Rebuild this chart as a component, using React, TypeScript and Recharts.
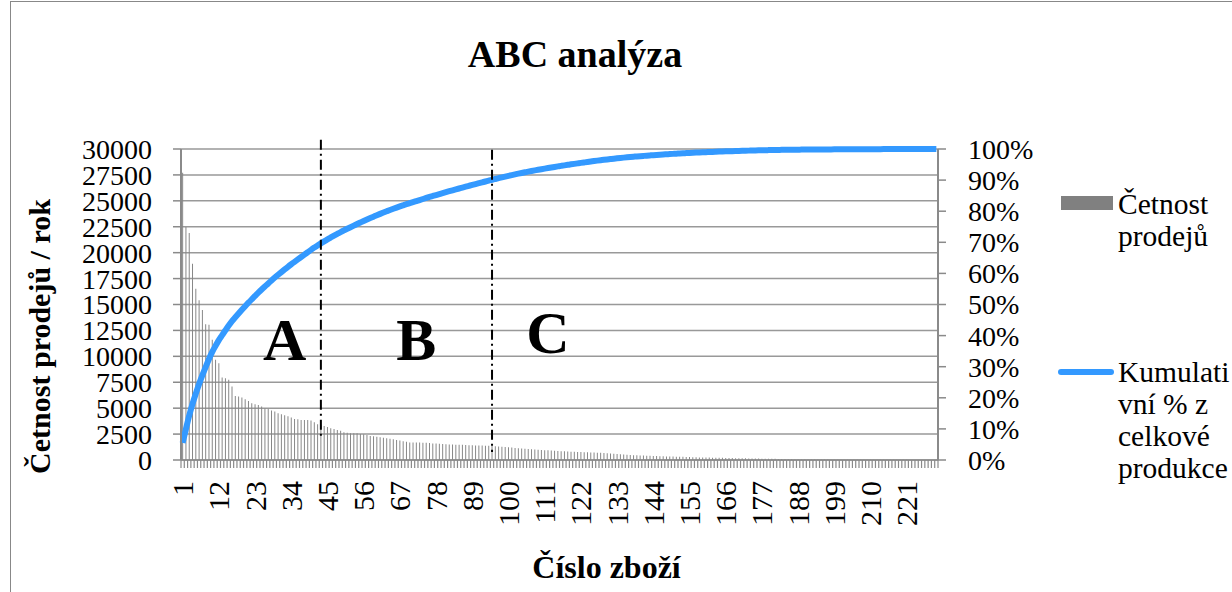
import React from 'react';
import {
  ComposedChart,
  Bar,
  Line,
  XAxis,
  YAxis,
  CartesianGrid,
  ReferenceLine,
  ReferenceDot,
  Legend,
  Label,
} from 'recharts';

const FONT = "'Liberation Serif', 'Times New Roman', Times, serif";

// Sales frequency per year for each product (sorted descending)
const salesCounts: number[] = [
  27700, 22470, 21890, 18930, 16510, 15420, 14480, 13100, 13040, 11590,
  9660, 9330, 7950, 7890, 7730, 7080, 6180, 6120, 6020, 5860,
  5700, 5480, 5380, 5310, 5150, 4960, 4930, 4770, 4670, 4510,
  4410, 4320, 4220, 4090, 3960, 3930, 3870, 3870, 3870, 3800,
  3650, 3460, 3420, 3290, 3190, 3060, 3000, 2900, 2830, 2670,
  2640, 2570, 2570, 2570, 2500, 2480, 2410, 2310, 2280, 2250,
  2190, 2150, 2090, 2060, 2000, 1930, 1870, 1800, 1770, 1700,
  1690, 1680, 1680, 1670, 1660, 1640, 1600, 1580, 1560, 1540,
  1510, 1500, 1490, 1480, 1470, 1460, 1450, 1430, 1420, 1410,
  1400, 1390, 1380, 1380, 1370, 1330, 1300, 1290, 1260, 1230,
  1200, 1160, 1140, 1110, 1080, 1060, 1030, 1010, 990, 960,
  940, 930, 910, 890, 870, 850, 840, 820, 800, 790,
  780, 770, 750, 740, 730, 720, 710, 690, 670, 640,
  620, 600, 580, 550, 530, 500, 480, 470, 450, 440,
  430, 415, 400, 390, 375, 360, 350, 340, 335, 330,
  325, 320, 305, 290, 280, 270, 260, 250, 245, 240,
  230, 225, 215, 210, 205, 200, 190, 185, 175, 170,
  165, 160, 155, 150, 145, 140, 130, 125, 120, 115,
  110, 100, 95, 90, 80, 70, 60, 55, 50, 48,
  46, 44, 42, 40, 39, 38, 37, 36, 35, 34,
  33, 32, 31, 30, 29, 28, 27, 26, 25, 24,
  23, 22, 21, 20, 19, 18, 17, 16, 15, 14,
  13, 12, 11, 10, 9, 8, 7, 6, 5, 5,
];

// Category numbers (Číslo zboží)
const productNumbers: number[] = salesCounts.map((_, i) => i + 1);

const leftTicks: number[] = [0, 2500, 5000, 7500, 10000, 12500, 15000, 17500, 20000, 22500, 25000, 27500, 30000];
const rightTicks: number[] = [0, 0.1, 0.2, 0.3, 0.4, 0.5, 0.6, 0.7, 0.8, 0.9, 1];

// Zone boundaries (dash-dot lines) at product numbers, with their extents in left-axis units
const boundaryItems: number[] = [43, 95];
const boundaryTops: number[] = [30900, 29930];
const boundaryBottoms: number[] = [2100, 770];

// Zone labels
const zoneNames: string[] = ['A', 'B', 'C'];
const zoneItems: number[] = [32, 72, 112];
const zoneLevels: number[] = [9650, 9650, 10330];

const total = salesCounts.reduce((a, b) => a + b, 0);
let running = 0;
const data = salesCounts.map((v, i) => {
  running += v;
  return { id: productNumbers[i], v, cum: running / total };
});

const GRAY = '#8a8a8a';
const BLUE = '#3399ff';

const XTick = (props: any) => {
  const { x, y, payload, index } = props;
  const w = typeof props.width === 'number' && props.width > 0 ? props.width : 757;
  const bw = w / data.length;
  const show = index % 11 === 0;
  const ly = y + 21;
  return (
    <g>
      <line x1={x - bw / 2} x2={x - bw / 2} y1={y} y2={y + 8} stroke={GRAY} strokeWidth={1.2} />
      {index === data.length - 1 && (
        <line x1={x + bw / 2} x2={x + bw / 2} y1={y} y2={y + 8} stroke={GRAY} strokeWidth={1.2} />
      )}
      {show && (
        <text
          x={x}
          y={ly}
          transform={`rotate(-90, ${x}, ${ly})`}
          textAnchor="end"
          dominantBaseline="central"
          fontSize={30}
          fontFamily={FONT}
          fill="#000"
        >
          {payload.value}
        </text>
      )}
    </g>
  );
};

const LegendBox = () => (
  <svg width={182} height={310} style={{ display: 'block', overflow: 'visible' }}>
    <rect x={11} y={16} width={52} height={14} fill="#808080" />
    <text x={68} y={34} fontSize={29.5} fontFamily={FONT} fill="#000">Četnost</text>
    <text x={68} y={66} fontSize={29.5} fontFamily={FONT} fill="#000">prodejů</text>
    <line x1={11} x2={61} y1={192} y2={192} stroke={BLUE} strokeWidth={6} strokeLinecap="round" />
    <text x={68} y={202} fontSize={29.5} fontFamily={FONT} fill="#000">Kumulati</text>
    <text x={68} y={234} fontSize={29.5} fontFamily={FONT} fill="#000">vní % z</text>
    <text x={68} y={266} fontSize={29.5} fontFamily={FONT} fill="#000">celkové</text>
    <text x={68} y={298} fontSize={29.5} fontFamily={FONT} fill="#000">produkce</text>
  </svg>
);

const XTitle = (props: any) => {
  const vb = props.viewBox || { x: 181, y: 460, width: 757, height: 132 };
  return (
    <text
      x={vb.x + vb.width / 2 + 47}
      y={vb.y + 118}
      textAnchor="middle"
      fontSize={32}
      fontWeight="bold"
      fontFamily={FONT}
      fill="#000"
    >
      Číslo zboží
    </text>
  );
};

const YTitle = (props: any) => {
  const vb = props.viewBox || { x: 81, y: 149, width: 100, height: 311 };
  const cx = vb.x - 42;
  const cy = vb.y + vb.height / 2 + 32;
  return (
    <text
      x={cx}
      y={cy}
      transform={`rotate(-90, ${cx}, ${cy})`}
      textAnchor="middle"
      dominantBaseline="central"
      fontSize={30}
      fontWeight="bold"
      fontFamily={FONT}
      fill="#000"
    >
      Četnost prodejů / rok
    </text>
  );
};

export default function App() {
  return (
    <div style={{ position: 'absolute', left: 0, top: 0, width: 1232, height: 592, background: '#fff', overflow: 'hidden' }}>
      <div
        style={{
          position: 'absolute',
          left: 10,
          top: 1,
          width: 1240,
          height: 620,
          border: '1px solid #888',
          boxSizing: 'border-box',
        }}
      />
      <ComposedChart
        width={1232}
        height={592}
        data={data}
        margin={{ top: 149, right: 194, bottom: 0, left: 81 }}
        barCategoryGap="35%"
      >
        <CartesianGrid yAxisId="left" vertical={false} stroke="#999" strokeWidth={1.5} />
        <XAxis
          dataKey="id"
          type="category"
          interval={0}
          height={132}
          tickSize={0}
          tickMargin={0}
          tickLine={false}
          axisLine={{ stroke: GRAY, strokeWidth: 1.5 }}
          tick={<XTick />}
        >
          <Label content={<XTitle />} />
        </XAxis>
        <YAxis
          yAxisId="left"
          orientation="left"
          width={100}
          domain={[0, 30000]}
          ticks={leftTicks}
          interval={0}
          tickSize={8}
          tickMargin={21}
          axisLine={{ stroke: GRAY, strokeWidth: 2 }}
          tickLine={{ stroke: GRAY, strokeWidth: 1.5 }}
          tick={{ fontSize: 28, fontFamily: FONT, fill: '#000' }}
        >
          <Label content={<YTitle />} />
        </YAxis>
        <YAxis
          yAxisId="right"
          orientation="right"
          width={100}
          domain={[0, 1]}
          ticks={rightTicks}
          interval={0}
          tickSize={8}
          tickMargin={22}
          tickFormatter={(v: number) => `${Math.round(v * 100)}%`}
          axisLine={{ stroke: GRAY, strokeWidth: 2 }}
          tickLine={{ stroke: GRAY, strokeWidth: 1.5 }}
          tick={{ fontSize: 28, fontFamily: FONT, fill: '#000', textAnchor: 'start' }}
        />
        <Bar
          yAxisId="left"
          dataKey="v"
          name="Četnost prodejů"
          fill="#868686"
          isAnimationActive={false}
        />
        <Line
          yAxisId="right"
          dataKey="cum"
          name="Kumulativní % z celkové produkce"
          type="monotone"
          stroke={BLUE}
          strokeWidth={6}
          dot={false}
          activeDot={false}
          isAnimationActive={false}
        />
        {boundaryItems.map((item, i) => (
          <ReferenceLine
            key={`b${i}`}
            yAxisId="left"
            segment={[
              { x: item, y: boundaryTops[i] },
              { x: item, y: boundaryBottoms[i] },
            ]}
            ifOverflow="visible"
            stroke="#000"
            strokeWidth={2}
            strokeDasharray="10 4 2 4"
          />
        ))}
        {zoneNames.map((name, i) => (
          <ReferenceDot
            key={`z${i}`}
            yAxisId="left"
            x={zoneItems[i]}
            y={zoneLevels[i]}
            r={0}
            ifOverflow="visible"
            shape={(p: any) => (
              <text
                x={p.cx}
                y={p.cy}
                textAnchor="middle"
                fontSize={60}
                fontWeight="bold"
                fontFamily={FONT}
                fill="#000"
              >
                {name}
              </text>
            )}
          />
        ))}
        <Legend
          layout="horizontal"
          verticalAlign="middle"
          align="center"
          content={() => <LegendBox />}
          wrapperStyle={{ position: 'absolute', left: 1050, top: 180, width: 182, height: 310 }}
        />
      </ComposedChart>
      <svg
        width={1232}
        height={592}
        style={{ position: 'absolute', left: 0, top: 0, pointerEvents: 'none' }}
      >
        <text x={575} y={67} textAnchor="middle" fontSize={38} fontWeight="bold" fontFamily={FONT} fill="#000">
          ABC analýza
        </text>
      </svg>
    </div>
  );
}
